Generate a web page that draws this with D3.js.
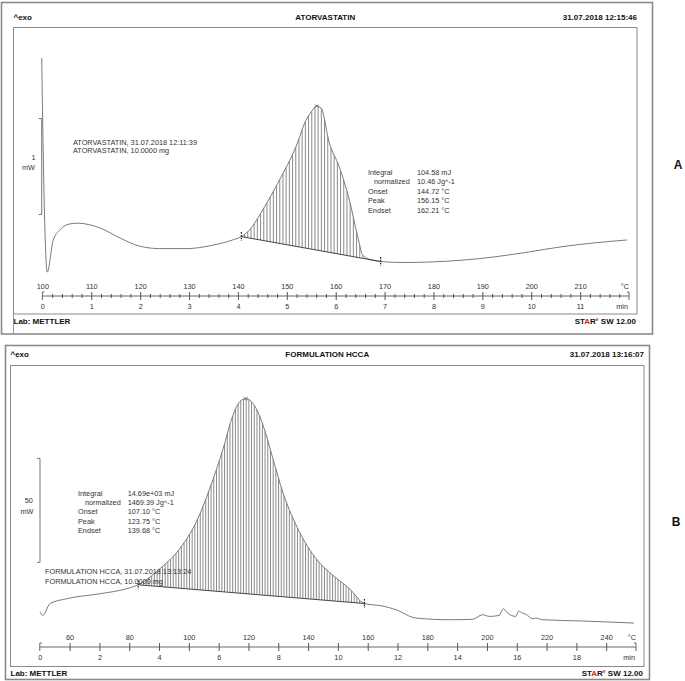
<!DOCTYPE html>
<html>
<head>
<meta charset="utf-8">
<script src="https://cdn.jsdelivr.net/npm/d3@7"></script>
<style>
  body { margin: 0; background: #fff; }
  svg { display: block; font-family: 'Liberation Sans', Arial, sans-serif; }
  .frame { fill: none; stroke: #8a8a8a; }
  .head { font-size: 8px; font-weight: bold; fill: #111; }
  .small { font-size: 7.3px; fill: #333; }
  .letter { font-size: 12px; font-weight: bold; fill: #111; }
</style>
</head>
<body>
<svg id="chart" width="685" height="681"></svg>
<script>
// ATORVASTATIN, heating 10 K/min (temperature in °C, heat flow in mW)
const atorTemp = [99.86, 100.39, 101.0, 102.2, 103.6, 105.4, 107.3, 109.5, 111.8, 115.9, 119.9, 124.0, 129.5, 134.8, 138.9,
  140.7, 142.4, 145.1, 148.5, 151.9, 153.9, 155.0, 156.1, 157.0, 158.7, 160.7, 162.8, 164.5, 165.5, 166.8, 168.2, 169.2,
  174.0, 179.1, 186.0, 192.7, 199.5, 206.3, 213.0, 219.6]
const atorHeat = [2.26, 0.71, 0.03, 0.36, 0.47, 0.53, 0.54, 0.525, 0.49, 0.385, 0.30, 0.275, 0.275, 0.31, 0.365,
  0.40, 0.47, 0.68, 0.99, 1.34, 1.61, 1.70, 1.76, 1.74, 1.375, 1.13, 0.78, 0.40, 0.21, 0.165, 0.15, 0.14,
  0.13, 0.135, 0.155, 0.19, 0.24, 0.295, 0.335, 0.365]
const atorLimits = [140.7, 169.2]
const atorPeak = 156.1
const atorTempLabels = [100, 110, 120, 130, 140, 150, 160, 170, 180, 190, 200, 210]
const atorMinLabels = [0, 1, 2, 3, 4, 5, 6, 7, 8, 9, 10, 11]
const atorResultNames = ['Integral', 'normalized', 'Onset', 'Peak', 'Endset']
const atorResultValues = ['104.58 mJ', '10.46 Jg^-1', '144.72 °C', '156.15 °C', '162.21 °C']
const atorSample = ['ATORVASTATIN, 31.07.2018 12:11:39', 'ATORVASTATIN, 10.0000 mg']

// FORMULATION HCCA
const hccaTemp = [50.07, 51.0, 53.4, 59.0, 70.2, 79.1, 83.0, 90.3, 96.9, 102.5, 107.0, 111.5, 114.8, 117.0, 119.1,
  122.6, 124.9, 128.2, 131.5, 137.1, 142.7, 148.3, 153.9, 158.9, 165.0, 169.5, 176.2, 187.4, 195.2, 198.5, 200.8,
  204.1, 205.5, 206.9, 209.7, 210.6, 211.9, 213.1, 215.3, 216.4, 218.6, 232.0, 249.3]
const hccaHeat = [9.6, 8.0, 13.6, 16.0, 18.4, 20.8, 22.7, 30.4, 40.0, 52.9, 68.9, 88.1, 104.2, 110.6, 112.2,
  107.4, 99.4, 83.3, 67.3, 48.1, 35.2, 27.3, 20.8, 13.7, 12.5, 10.7, 6.7, 5.9, 6.1, 8.3, 7.5,
  8.0, 11.2, 9.1, 7.5, 9.95, 9.1, 8.5, 6.4, 6.7, 5.9, 5.3, 4.3]
const hccaLimits = [83.0, 158.9]
const hccaPeak = 119.1
const hccaTempLabels = [60, 80, 100, 120, 140, 160, 180, 200, 220, 240]
const hccaMinLabels = [0, 2, 4, 6, 8, 10, 12, 14, 16, 18]
const hccaResultNames = ['Integral', 'normalized', 'Onset', 'Peak', 'Endset']
const hccaResultValues = ['14.69e+03 mJ', '1469.39 Jg^-1', '107.10 °C', '123.75 °C', '139.68 °C']
const hccaSample = ['FORMULATION HCCA, 31.07.2018 13:13:24', 'FORMULATION HCCA, 10.0000 mg']

const FONT = "'Liberation Sans', Arial, sans-serif"
const svg = d3.select('#chart')

const panels = [
  {
    letter: 'A', title: 'ATORVASTATIN', stamp: '31.07.2018 12:15:46',
    outer: [1.5, 2.5, 651, 331.5], inner: [13.5, 27.5, 623.5, 286.5], headY: 19.5, footY: 324, letterPos: [678, 169],
    temp: atorTemp, heat: atorHeat, limits: atorLimits, peak: atorPeak,
    tempDomain: [100, 220], minDomain: [0, 12], xRange: [42.4, 629], yDomain: [0, 2.5], yRange: [275, 35],
    axisY: 296, tempLabels: atorTempLabels, minLabels: atorMinLabels, majorStep: 1, minorStep: 0.2, hatchStep: 3.2,
    bar: [0.63, 1.63], barX: 41.7, barText: ['1', 'mW'], barTextPos: [[33.5, 159.5], [28.5, 169.5]],
    names: atorResultNames, values: atorResultValues, resultPos: { x: 368, indent: 374, vx: 417, y: 174.5, dy: 9.5 },
    sample: atorSample, samplePos: { x: 73, y: 144.5, dy: 8.5 }
  },
  {
    letter: 'B', title: 'FORMULATION HCCA', stamp: '31.07.2018 13:16:07',
    outer: [5.5, 345.5, 644, 334], inner: [10.5, 365.5, 633.5, 301], headY: 357, footY: 676, letterPos: [676, 526],
    temp: hccaTemp, heat: hccaHeat, limits: hccaLimits, peak: hccaPeak,
    tempDomain: [50, 250], minDomain: [0, 20], xRange: [39.8, 636], yDomain: [0, 100], yRange: [632, 424],
    axisY: 647, tempLabels: hccaTempLabels, minLabels: hccaMinLabels, majorStep: 1, minorStep: null, hatchStep: 2.7,
    bar: [33.5, 83.5], barX: 40, barText: ['50', 'mW'], barTextPos: [[28.7, 502.5], [27, 513.5]],
    names: hccaResultNames, values: hccaResultValues, resultPos: { x: 78, indent: 85, vx: 127.7, y: 496, dy: 9.2 },
    sample: hccaSample, samplePos: { x: 45, y: 574, dy: 9.5 }
  }
]

panels.forEach(drawPanel)

// d3.axis puts its own font on the group, so restyle after each call
function plainAxis (a) {
  a.attr('font-size', 7.3).attr('font-family', FONT)
  a.select('.domain').remove()
}

function drawPanel (p) {
  const g = svg.append('g')

  // frames
  g.append('rect').attr('class', 'frame')
    .attr('x', p.outer[0]).attr('y', p.outer[1]).attr('width', p.outer[2]).attr('height', p.outer[3])
    .attr('stroke-width', 1.6)
  g.append('rect').attr('class', 'frame')
    .attr('x', p.inner[0]).attr('y', p.inner[1]).attr('width', p.inner[2]).attr('height', p.inner[3])
    .attr('stroke', '#999')

  // header + footer
  g.append('text').attr('class', 'head').attr('x', p.inner[0]).attr('y', p.headY).attr('font-size', 7).text('^exo')
  g.append('text').attr('class', 'head').attr('x', p.inner[0] + p.inner[2] / 2).attr('y', p.headY)
    .attr('text-anchor', 'middle').text(p.title)
  g.append('text').attr('class', 'head').attr('x', p.inner[0] + p.inner[2]).attr('y', p.headY)
    .attr('text-anchor', 'end').text(p.stamp)
  g.append('text').attr('class', 'head').attr('x', p.inner[0]).attr('y', p.footY).text('Lab: METTLER')

  const star = g.append('text').attr('class', 'head').attr('x', p.inner[0] + p.inner[2] - 1).attr('y', p.footY)
    .attr('text-anchor', 'end')
  star.append('tspan').text('ST')
  star.append('tspan').attr('fill', '#e02020').text('A')
  star.append('tspan').text('R')
  star.append('tspan').attr('fill', '#e02020').attr('font-size', 5).attr('dy', -3).text('e')
  star.append('tspan').attr('dy', 3).text(' SW 12.00')

  g.append('text').attr('class', 'letter').attr('x', p.letterPos[0]).attr('y', p.letterPos[1])
    .attr('text-anchor', 'middle').text(p.letter)

  // scales
  const x = d3.scaleLinear().domain(p.tempDomain).range(p.xRange)
  const xMin = d3.scaleLinear().domain(p.minDomain).range(p.xRange)
  const y = d3.scaleLinear().domain(p.yDomain).range(p.yRange)

  // axis
  const axis = g.append('g').attr('transform', `translate(0,${p.axisY})`)
    .attr('color', '#555').attr('font-family', FONT).attr('font-size', 7.3)

  axis.append('path')
    .attr('d', `M${p.xRange[0]},4V-4h2M${p.xRange[0]},0H${p.xRange[1]}M${p.xRange[1]},4V-4h-2`)
    .attr('fill', 'none').attr('stroke', '#666')

  const majors = d3.range(p.minDomain[0] + p.majorStep, p.minDomain[1] - 0.01, p.majorStep)
  axis.append('g').attr('transform', 'translate(0,-4)')
    .call(d3.axisBottom(xMin).tickValues(majors).tickSize(8).tickFormat(''))
    .call(plainAxis)

  if (p.minorStep) {
    const minors = d3.range(p.minDomain[0], p.minDomain[1] + 0.001, p.minorStep)
      .filter(v => Math.abs(v - Math.round(v)) > 0.01)
    axis.append('g').attr('transform', 'translate(0,-2)')
      .call(d3.axisBottom(xMin).tickValues(minors).tickSize(4).tickFormat(''))
      .call(plainAxis)
  }

  axis.append('g')
    .call(d3.axisTop(x).tickValues(p.tempLabels).tickSize(0).tickPadding(7))
    .call(plainAxis)
  axis.append('g')
    .call(d3.axisBottom(xMin).tickValues(p.minLabels).tickSize(0).tickPadding(8))
    .call(plainAxis)
  axis.selectAll('text').attr('fill', '#333')

  axis.append('text').attr('x', p.xRange[1]).attr('y', -7).attr('text-anchor', 'end')
    .attr('fill', '#333').text('°C')
  axis.append('text').attr('x', p.xRange[1] - 1).attr('y', 13.2).attr('text-anchor', 'end')
    .attr('fill', '#333').text('min')

  // scale bar
  const by0 = y(p.bar[0])
  const by1 = y(p.bar[1])
  g.append('path').attr('d', `M${p.barX - 3},${by1}H${p.barX}V${by0}H${p.barX - 3}`)
    .attr('fill', 'none').attr('stroke', '#777')
  p.barText.forEach((t, i) => {
    g.append('text').attr('class', 'small').attr('x', p.barTextPos[i][0]).attr('y', p.barTextPos[i][1])
      .attr('text-anchor', 'middle').text(t)
  })

  // curve
  const points = d3.zip(p.temp, p.heat)
  const line = d3.line().x(d => x(d[0])).y(d => y(d[1])).curve(d3.curveMonotoneX)
  const hatch = g.append('g')
  const curve = g.append('path').datum(points).attr('d', line)
    .attr('fill', 'none').attr('stroke', '#7a7a7a').attr('stroke-width', 1)

  const node = curve.node()
  const total = node.getTotalLength()
  const samples = d3.range(0, total, 0.4).map(l => node.getPointAtLength(l))
  const bis = d3.bisector(d => d.x).left
  function curveY (px) {
    const i = Math.max(1, Math.min(samples.length - 1, bis(samples, px)))
    const a = samples[i - 1]
    const b = samples[i]
    const t = b.x === a.x ? 0 : (px - a.x) / (b.x - a.x)
    return a.y + (b.y - a.y) * t
  }

  const xOn = x(p.limits[0])
  const xEnd = x(p.limits[1])
  const yOn = curveY(xOn)
  const yEnd = curveY(xEnd)
  const base = px => yOn + (yEnd - yOn) * (px - xOn) / (xEnd - xOn)

  hatch.selectAll('line').data(d3.range(xOn + p.hatchStep, xEnd, p.hatchStep))
    .join('line')
    .attr('x1', d => d).attr('x2', d => d)
    .attr('y1', d => base(d)).attr('y2', d => Math.min(base(d), curveY(d)))
    .attr('stroke', '#3a3a3a').attr('stroke-width', 0.6)

  g.append('line').attr('x1', xOn).attr('y1', yOn).attr('x2', xEnd).attr('y2', yEnd)
    .attr('stroke', '#333').attr('stroke-width', 0.9)

  // limit markers and peak mark
  ;[xOn, xEnd].forEach(px => {
    const py = curveY(px)
    g.append('line').attr('x1', px).attr('x2', px).attr('y1', py - 4.5).attr('y2', py + 4.5)
      .attr('stroke', '#222').attr('stroke-width', 1.2).attr('stroke-dasharray', '1.6,1.2')
  })
  const pk = x(p.peak)
  const pky = curveY(pk)
  g.append('path').attr('d', `M${pk - 2},${pky - 1.5}L${pk + 2},${pky + 1.5}M${pk - 2},${pky + 1.5}L${pk + 2},${pky - 1.5}`)
    .attr('stroke', '#555').attr('stroke-width', 0.7)

  // results block
  const rp = p.resultPos
  p.names.forEach((n, i) => {
    g.append('text').attr('class', 'small').attr('x', i === 1 ? rp.indent : rp.x).attr('y', rp.y + i * rp.dy).text(n)
    g.append('text').attr('class', 'small').attr('x', rp.vx).attr('y', rp.y + i * rp.dy).text(p.values[i])
  })

  // sample label
  p.sample.forEach((s, i) => {
    g.append('text').attr('class', 'small').attr('x', p.samplePos.x).attr('y', p.samplePos.y + i * p.samplePos.dy).text(s)
  })
}

// small footer divider on the first panel
svg.append('line').attr('x1', 13.5).attr('x2', 13.5).attr('y1', 314).attr('y2', 334).attr('stroke', '#999')
</script>
</body>
</html>
